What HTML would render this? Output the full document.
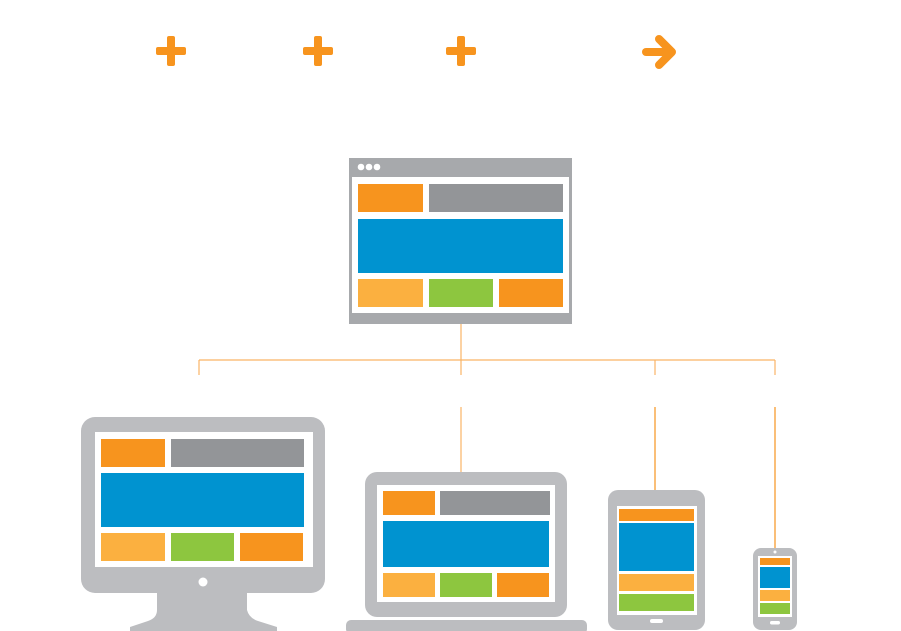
<!DOCTYPE html>
<html><head><meta charset="utf-8"><style>
html,body{margin:0;padding:0;background:#fff;}
svg{display:block;}
</style></head><body>
<svg width="901" height="631" viewBox="0 0 901 631" xmlns="http://www.w3.org/2000/svg">
<g fill="#f7941e">
  <rect x="156" y="47" width="30" height="8" rx="2"/><rect x="167" y="36" width="8" height="30" rx="2"/>
  <rect x="303" y="47" width="30" height="8" rx="2"/><rect x="314" y="36" width="8" height="30" rx="2"/>
  <rect x="446" y="47" width="30" height="8" rx="2"/><rect x="457" y="36" width="8" height="30" rx="2"/>
</g>
<g stroke="#f7941e" stroke-width="8" stroke-linecap="round" stroke-linejoin="round" fill="none">
  <line x1="646" y1="52" x2="670" y2="52"/>
  <polyline points="659,39 672,52 659,65"/>
</g>
<!-- browser -->
<rect x="349" y="158" width="223" height="166" fill="#a7a9ac"/>
<rect x="352" y="177" width="217" height="136" fill="#fff"/>
<g fill="#fff"><circle cx="361" cy="167" r="3.3"/><circle cx="369" cy="167" r="3.3"/><circle cx="377" cy="167" r="3.3"/></g>
<rect x="358" y="184" width="65" height="28" fill="#f7941e"/>
<rect x="429" y="184" width="134" height="28" fill="#939598"/>
<rect x="358" y="219" width="205" height="54" fill="#0093d0"/>
<rect x="358" y="279" width="65" height="28" fill="#fbb040"/>
<rect x="429" y="279" width="64" height="28" fill="#8dc63f"/>
<rect x="499" y="279" width="64" height="28" fill="#f7941e"/>
<!-- connectors -->
<g stroke="#f9b466" stroke-width="1.2" fill="none">
  <line x1="461" y1="324" x2="461" y2="375"/>
  <line x1="199" y1="360" x2="775" y2="360"/>
  <line x1="199" y1="360" x2="199" y2="375"/>
  <line x1="655" y1="360" x2="655" y2="375"/>
  <line x1="775" y1="360" x2="775" y2="375"/>
  <line x1="461" y1="407" x2="461" y2="472"/>
</g>
<g stroke="#f7941e" stroke-width="1.2" fill="none">
  <line x1="655" y1="407" x2="655" y2="490"/>
  <line x1="775" y1="407" x2="775" y2="548"/>
</g>
<!-- monitor -->
<path d="M157,592 L247,592 L247,610 Q249,618 258,621 L277,627 L277,631 L130,631 L130,627 L148,621 Q157,618 157,610 Z" fill="#bcbdc0"/>
<rect x="81" y="417" width="244" height="176" rx="14" fill="#bcbdc0"/>
<rect x="95" y="432" width="218" height="135" fill="#fff"/>
<rect x="101" y="439" width="64" height="28" fill="#f7941e"/>
<rect x="171" y="439" width="133" height="28" fill="#939598"/>
<rect x="101" y="473" width="203" height="54" fill="#0093d0"/>
<rect x="101" y="533" width="64" height="28" fill="#fbb040"/>
<rect x="171" y="533" width="63" height="28" fill="#8dc63f"/>
<rect x="240" y="533" width="63" height="28" fill="#f7941e"/>
<circle cx="203" cy="582" r="4.5" fill="#fff"/>
<!-- laptop -->
<rect x="365" y="472" width="202" height="145" rx="12" fill="#bcbdc0"/>
<rect x="346" y="620" width="241" height="14" rx="5" fill="#bcbdc0"/>
<rect x="377" y="485" width="178" height="117" fill="#fff"/>
<rect x="383" y="491" width="52" height="24" fill="#f7941e"/>
<rect x="440" y="491" width="110" height="24" fill="#939598"/>
<rect x="383" y="521" width="166" height="46" fill="#0093d0"/>
<rect x="383" y="573" width="52" height="24" fill="#fbb040"/>
<rect x="440" y="573" width="52" height="24" fill="#8dc63f"/>
<rect x="497" y="573" width="52" height="24" fill="#f7941e"/>
<!-- tablet -->
<rect x="608" y="490" width="97" height="140" rx="10" fill="#bcbdc0"/>
<rect x="617" y="506" width="80" height="109" fill="#fff"/>
<rect x="619" y="509" width="75" height="12" fill="#f7941e"/>
<rect x="619" y="523" width="75" height="48" fill="#0093d0"/>
<rect x="619" y="574" width="75" height="17" fill="#fbb040"/>
<rect x="619" y="594" width="75" height="17" fill="#8dc63f"/>
<rect x="650" y="619" width="13" height="4" rx="2" fill="#fff"/>
<!-- phone -->
<rect x="753" y="548" width="44" height="82" rx="8" fill="#bcbdc0"/>
<rect x="758" y="556" width="34" height="61" fill="#fff"/>
<rect x="760" y="558" width="30" height="7" fill="#f7941e"/>
<rect x="760" y="567" width="30" height="21" fill="#0093d0"/>
<rect x="760" y="590" width="30" height="11" fill="#fbb040"/>
<rect x="760" y="603" width="30" height="11" fill="#8dc63f"/>
<circle cx="775" cy="552" r="1.5" fill="#fff"/>
<rect x="770" y="621" width="10" height="3.5" rx="1.7" fill="#fff"/>
</svg>
</body></html>
